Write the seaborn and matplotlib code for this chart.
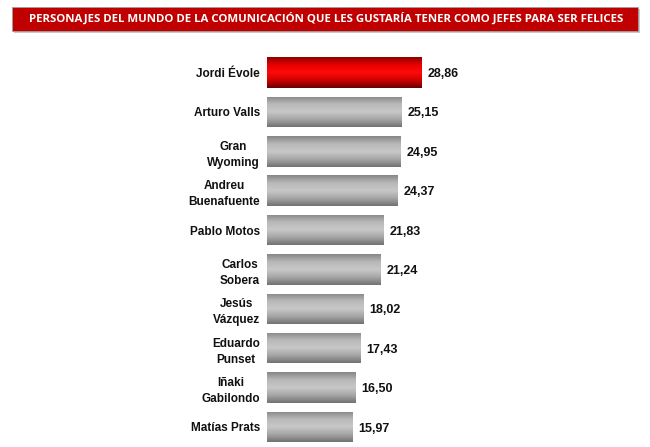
import numpy as np
import pandas as pd
import seaborn as sns
import matplotlib
matplotlib.use('Agg')
import matplotlib.pyplot as plt
from matplotlib.colors import LinearSegmentedColormap

# datos
nombres = ['Jordi Évole', 'Arturo Valls', 'Gran\nWyoming', 'Andreu\nBuenafuente',
           'Pablo Motos', 'Carlos\nSobera', 'Jesús\nVázquez', 'Eduardo\nPunset',
           'Iñaki\nGabilondo', 'Matías Prats']
valores = [28.86, 25.15, 24.95, 24.37, 21.83, 21.24, 18.02, 17.43, 16.50, 15.97]
titulo = 'PERSONAJES DEL MUNDO DE LA COMUNICACIÓN QUE LES GUSTARÍA TENER COMO JEFES PARA SER FELICES'

df = pd.DataFrame({'nombre': nombres, 'valor': valores})

sns.set_style('white')
plt.rcParams['font.family'] = ['Liberation Sans', 'DejaVu Sans']

fig = plt.figure(figsize=(6.5, 4.47), dpi=100)
fig.patch.set_facecolor('white')

# ejes: x=0 en px 267, 5.34 px por unidad
px_unit = 5.34
left = 267 / 650
width = 333 / 650
ax = fig.add_axes([left, 0.0007, width, 0.8812])

colores = ['#e00000'] + ['#b0b0b0'] * 9
sns.barplot(data=df, x='valor', y='nombre', hue='nombre', palette=colores,
            legend=False, width=0.775, ax=ax, orient='h')

# degradado vertical en cada barra
cm_rojo = LinearSegmentedColormap.from_list('rojo', ['#8c0000', '#e80000', '#ff0a0a', '#d00000', '#6a0000'])
cm_gris = LinearSegmentedColormap.from_list('gris', ['#868686', '#b8b8b8', '#c8c8c8', '#a6a6a6', '#727272'])
grad = np.linspace(0, 1, 100).reshape(-1, 1)
for i, p in enumerate(ax.patches):
    x0, y0 = p.get_x(), p.get_y()
    w, h = p.get_width(), p.get_height()
    cm = cm_rojo if i == 0 else cm_gris
    im = ax.imshow(grad, cmap=cm, aspect='auto', extent=(x0, x0 + w, y0 + h, y0),
                   zorder=p.get_zorder() + 0.1, interpolation='bicubic')
    im.set_clip_path(p)
    ax.text(x0 + w + 1.2, y0 + h / 2 + 0.04, f'{valores[i]:.2f}'.replace('.', ','),
            ha='left', va='center', fontsize=9, fontweight='bold', color='#111111')
ax.set_ylim(len(nombres) - 0.5, -0.5)
ax.set_xlim(0, 333 / px_unit)

ax.set_xlabel('')
ax.set_ylabel('')
ax.set_xticks([])
ax.tick_params(axis='y', length=0, pad=5)
for lab in ax.get_yticklabels():
    lab.set_fontweight('bold')
    lab.set_fontsize(8.5)
    lab.set_multialignment('center')
    lab.set_linespacing(1.45)
    lab.set_color('#111111')
sns.despine(ax=ax, left=True, bottom=True)

# banda del titulo (con sombra ligera)
fig.patches.append(plt.Rectangle((14 / 650, 1 - 33 / 447), 626 / 650, 24 / 447,
                                 transform=fig.transFigure, facecolor='#c8c8c8',
                                 edgecolor='none', zorder=0))
fig.patches.append(plt.Rectangle((12 / 650, 1 - 31 / 447), 626 / 650, 24 / 447,
                                 transform=fig.transFigure, facecolor='#c00000',
                                 edgecolor='#a0a0a0', linewidth=0.6, zorder=0))
t = fig.text(326 / 650, 1 - 19 / 447, titulo, ha='center', va='center', color='white',
             fontsize=9, fontweight='bold', family=['Open Sans', 'DejaVu Sans'])
# ajustar el tamaño del titulo al ancho de la banda (~598 px)
r = fig.canvas.get_renderer()
tw = t.get_window_extent(r).width
t.set_fontsize(9 * 598 / tw)

fig.savefig('out.png', dpi=100)
